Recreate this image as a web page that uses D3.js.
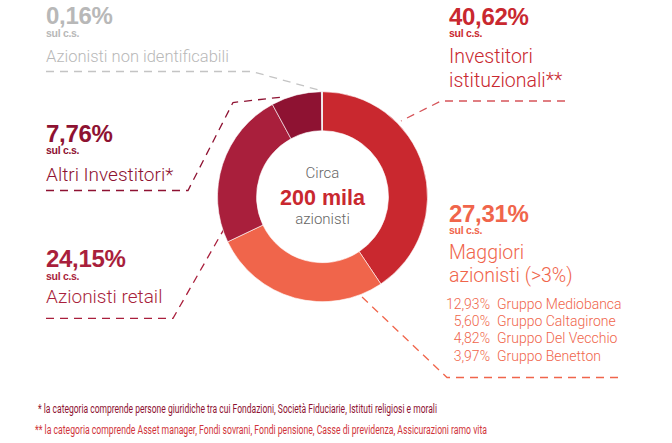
<!DOCTYPE html>
<html><head><meta charset="utf-8">
<script src="https://cdn.jsdelivr.net/npm/d3@7/dist/d3.min.js"></script>
<style>
html,body{margin:0;padding:0;background:#fff;}
svg{display:block;}
</style></head>
<body>
<svg id="chart" width="672" height="443"></svg>
<script>
// ---- data ----
const categories = ["Investitori istituzionali**", "Maggiori azionisti (>3%)", "Azionisti retail", "Altri Investitori*", "Azionisti non identificabili"];
const values = [40.62, 27.31, 24.15, 7.76, 0.16];
const valueLabels = ["40,62%", "27,31%", "24,15%", "7,76%", "0,16%"];
const labelLines = [["Investitori", "istituzionali**"], ["Maggiori", "azionisti (>3%)"], ["Azionisti retail"], ["Altri Investitori*"], ["Azionisti non identificabili"]];
const subNames = ["Gruppo Mediobanca", "Gruppo Caltagirone", "Gruppo Del Vecchio", "Gruppo Benetton"];
const subValues = ["12,93%", "5,60%", "4,82%", "3,97%"];
const centerText = ["Circa", "200 mila", "azionisti"];
const footnotes = ["* la categoria comprende persone giuridiche tra cui Fondazioni, Società Fiduciarie, Istituti religiosi e morali",
                   "** la categoria comprende Asset manager, Fondi sovrani, Fondi pensione, Casse di previdenza, Assicurazioni ramo vita"];

// ---- styles / layout ----
const colors = ["#c9282f", "#f0654b", "#a91f3c", "#8e1232", "#c4c4c4"];
const textColors = ["#c9282f", "#f0654b", "#a91f3c", "#8e1232", "#b8b8b8"];
const lineColors = ["#d65459", "#f0654b", "#a91f3c", "#8e1232", "#c4c4c4"];
const cx = 322.5, cy = 196.7, rOuter = 105, rInner = 66;
const labelPos = [
  {x: 449, yPct: 25, ySul: 37, yLab: [63, 87], fs: 19.5},
  {x: 449, yPct: 221.7, ySul: 234.3, yLab: [259, 282], fs: 19.5},
  {x: 46, yPct: 266.7, ySul: 279.5, yLab: [303], fs: 19},
  {x: 46, yPct: 141.7, ySul: 154.3, yLab: [181], fs: 19},
  {x: 46, yPct: 24.3, ySul: 37, yLab: [61.5], fs: 16.5}
];
const leaders = [
  [[565,101],[441,101],[401,121]],
  [[618,377.5],[447,377.5],[362,297]],
  [[46,318.3],[173,318.3],[228,222]],
  [[46,190.5],[188,190.5],[233,102.5],[283,97]],
  [[46,71.5],[252,71.5],[322,91]]
];

const svg = d3.select("#chart");

// leader lines (drawn under ring)
const lineGen = d3.line();
svg.append("g").selectAll("path").data(leaders).join("path")
  .attr("d", d => lineGen(d))
  .attr("fill", "none")
  .attr("stroke", (d,i) => lineColors[i])
  .attr("stroke-width", 1.3)
  .attr("stroke-dasharray", "8,6");

// donut
const pie = d3.pie().sort(null).value(d => d);
const arc = d3.arc().innerRadius(rInner).outerRadius(rOuter);
svg.append("g").attr("transform", `translate(${cx},${cy})`)
  .selectAll("path").data(pie(values)).join("path")
  .attr("d", arc)
  .attr("fill", (d,i) => colors[i])
  .attr("stroke", "#fff")
  .attr("stroke-width", 0.6);

// center text
const ct = svg.append("g").attr("text-anchor", "middle");
ct.append("text").attr("x", cx).attr("y", 178).text(centerText[0])
  .attr("font-family", "Roboto, sans-serif").attr("font-weight", 300).attr("font-size", 15).attr("fill", "#666");
ct.append("text").attr("x", cx).attr("y", 205).text(centerText[1])
  .attr("font-family", "Liberation Sans, Arial, sans-serif").attr("font-weight", 700).attr("font-size", 21.5).attr("fill", "#c9282f");
ct.append("text").attr("x", cx).attr("y", 224).text(centerText[2])
  .attr("font-family", "Roboto, sans-serif").attr("font-weight", 300).attr("font-size", 15).attr("fill", "#666");

// labels
const lg = svg.append("g").selectAll("g").data(categories).join("g");
lg.append("text")
  .attr("x", (d,i) => labelPos[i].x).attr("y", (d,i) => labelPos[i].yPct)
  .attr("font-family", "Liberation Sans, Arial, sans-serif").attr("font-weight", 700).attr("font-size", 24)
  .attr("fill", (d,i) => textColors[i]).attr("letter-spacing", -0.3)
  .text((d,i) => valueLabels[i]);
lg.append("text")
  .attr("x", (d,i) => labelPos[i].x).attr("y", (d,i) => labelPos[i].ySul)
  .attr("font-family", "Liberation Sans, Arial, sans-serif").attr("font-weight", 700).attr("font-size", 10.5)
  .attr("fill", (d,i) => textColors[i]).attr("letter-spacing", -0.3)
  .text("sul c.s.");
lg.each(function(d,i){
  d3.select(this).selectAll("text.lab").data(labelLines[i]).join("text").attr("class","lab")
    .attr("x", labelPos[i].x).attr("y", (t,j) => labelPos[i].yLab[j])
    .attr("font-family", "Roboto, sans-serif").attr("font-weight", 300).attr("font-size", labelPos[i].fs)
    .attr("fill", textColors[i]).text(t => t);
});

// sub list for Maggiori azionisti
const sub = svg.append("g").attr("font-family", "Roboto, sans-serif").attr("font-weight", 300).attr("font-size", 14).attr("fill", "#f0654b");
const subY = [308.5, 326, 343.3, 361];
sub.selectAll("text.v").data(subValues).join("text").attr("class","v")
  .attr("x", 490).attr("y", (d,i) => subY[i]).attr("text-anchor", "end").text(d => d);
sub.selectAll("text.n").data(subNames).join("text").attr("class","n")
  .attr("x", 497).attr("y", (d,i) => subY[i]).text(d => d);

// footnotes
const fnX = [38, 35], fnY = [413, 433.5], fnLen = [399, 452], fnColor = ["#8e1232", "#d0343a"];
svg.append("g").selectAll("text").data(footnotes).join("text")
  .attr("x", (d,i) => fnX[i]).attr("y", (d,i) => fnY[i])
  .attr("font-family", "Roboto, sans-serif").attr("font-weight", 400).attr("font-size", 12)
  .attr("textLength", (d,i) => fnLen[i]).attr("lengthAdjust", "spacingAndGlyphs")
  .attr("fill", (d,i) => fnColor[i]).text(d => d);
</script>
</body></html>
